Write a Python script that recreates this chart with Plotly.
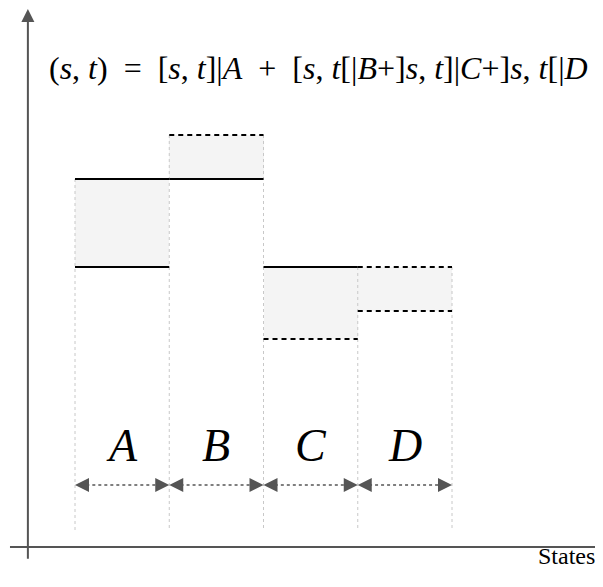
import plotly.graph_objects as go

# state intervals along the x axis
states = ["A", "B", "C", "D"]
left = [0, 1, 2, 3]
right = [1, 2, 3, 4]
# lower / upper level of each shaded block
low = [7.0, 9.2, 5.2, 5.9]
high = [9.2, 10.3, 7.0, 7.0]
# edge style of each block: True = closed (solid), False = open (dashed)
low_closed = [True, True, False, False]
high_closed = [True, False, True, False]

FILL = "#f4f4f4"
AXIS = "#555555"
SERIF = "Liberation Serif, DejaVu Serif, serif"

fig = go.Figure()

# shaded blocks
fig.add_trace(go.Bar(
    x=[(l + r) / 2 for l, r in zip(left, right)],
    y=[h - l for h, l in zip(high, low)],
    base=low,
    width=[r - l for l, r in zip(left, right)],
    marker=dict(color=FILL, line=dict(width=0)),
    hoverinfo="skip",
))

# dotted separators between states
bounds = sorted(set(left + right))
for b in bounds:
    tops = [high[i] for i in range(len(states)) if left[i] == b or right[i] == b]
    fig.add_trace(go.Scatter(
        x=[b, b], y=[max(tops), 0.42], mode="lines",
        line=dict(color="#c8c8c8", width=1, dash="dot"),
    ))

# block edges
for i in range(len(states)):
    for level, closed in ((low[i], low_closed[i]), (high[i], high_closed[i])):
        fig.add_trace(go.Scatter(
            x=[left[i], right[i]], y=[level, level], mode="lines",
            line=dict(color="black", width=2,
                      dash="solid" if closed else "5px,4px"),
        ))

# double arrows (tips on the state bounds) and state labels
ARROW_Y = 1.55
for i, s in enumerate(states):
    fig.add_trace(go.Scatter(
        x=[left[i] + 0.12, right[i] - 0.12], y=[ARROW_Y, ARROW_Y], mode="lines",
        line=dict(color=AXIS, width=1.5, dash="dot"),
    ))
    fig.add_trace(go.Scatter(
        x=[left[i], right[i]], y=[ARROW_Y, ARROW_Y], mode="markers",
        marker=dict(symbol=["arrow-left", "arrow-right"], size=14, color=AXIS,
                    line=dict(width=0)),
    ))
    fig.add_annotation(
        x=(left[i] + right[i]) / 2, y=2.55, text=f"<i>{s}</i>",
        showarrow=False, font=dict(family=SERIF, size=46, color="black"),
    )

# axes drawn by hand
fig.add_shape(type="line", x0=-0.69, x1=5.57, y0=0, y1=0,
              line=dict(color=AXIS, width=2))
fig.add_annotation(x=-0.5, y=13.45, ax=-0.5, ay=-0.33, axref="x", ayref="y",
                   showarrow=True, arrowhead=2, arrowsize=1.3, arrowwidth=2,
                   arrowcolor=AXIS, text="")

fig.add_annotation(
    xref="paper", yref="paper", x=0.066, y=0.931, xanchor="left",
    text="(<i>s</i>, <i>t</i>)  =  [<i>s</i>, <i>t</i>]|<i>A</i>  +  "
         "[<i>s</i>, <i>t</i>[|<i>B</i>+]<i>s</i>, <i>t</i>]|<i>C</i>+]"
         "<i>s</i>, <i>t</i>[|<i>D</i>",
    showarrow=False, font=dict(family=SERIF, size=32, color="black"),
)
fig.add_annotation(
    xref="paper", yref="paper", x=0.99, y=0.028, xanchor="right",
    text="States", showarrow=False,
    font=dict(family=SERIF, size=24, color="black"),
)

# the page body adds an 8px margin, so the figure is 8px smaller than the window
fig.update_layout(
    width=595, height=579,
    margin=dict(l=0, r=0, t=0, b=0),
    plot_bgcolor="white", paper_bgcolor="white",
    showlegend=False, bargap=0,
    xaxis=dict(range=[-0.711, 5.602], visible=False, fixedrange=True),
    yaxis=dict(range=[-1.0, 13.475], visible=False, fixedrange=True),
)

fig.write_html("out.html")
